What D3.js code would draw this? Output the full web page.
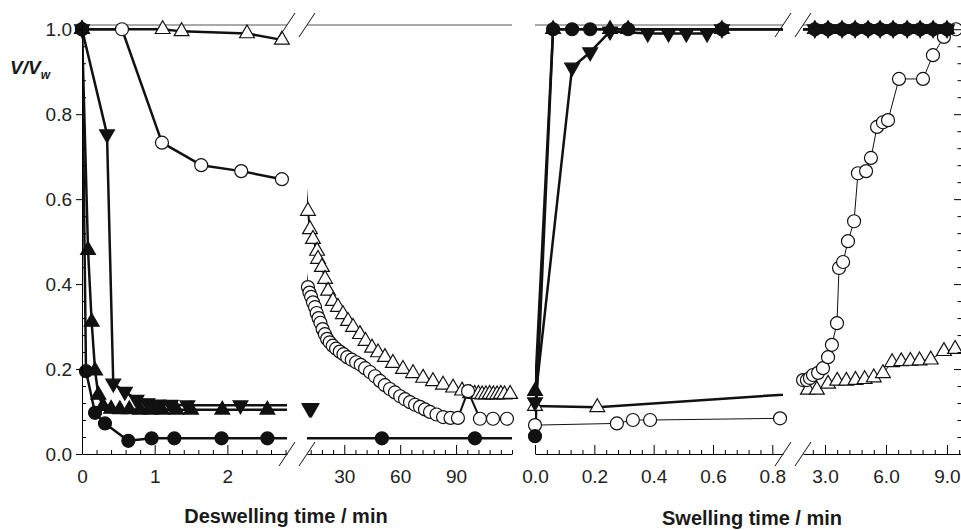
<!DOCTYPE html>
<html lang="en">
<head>
<meta charset="UTF-8">
<title>Deswelling and swelling kinetics</title>
<script src="https://d3js.org/d3.v7.min.js"></script>
<style>
    body { margin: 0; background: #fff; }
    svg { font-family: "Liberation Sans", Arial, sans-serif; }
    .axis-title { font-size: 20px; font-weight: bold; fill: #1a1a1a; }
</style>
</head>
<body>
<svg width="961" height="530"></svg>
<script>
// ---- data: [time (min), V/Vw] ----
// deswelling
const desOpenTriangle = [[0,1.0],[1.11,1.0],[1.37,0.995],[2.27,0.99],[2.75,0.975],
    [10.5,0.572],[11.6,0.529],[13.2,0.506],[15.4,0.478],[15.9,0.459],[18.0,0.44],[19.7,0.412],
    [21.3,0.384],[23.9,0.36],[26.6,0.346],[29.3,0.329],[32.0,0.313],[34.7,0.299],[38.4,0.282],
    [41.4,0.266],[44.9,0.25],[48.1,0.239],[51.8,0.228],[56.1,0.214],[61.5,0.2],[66.9,0.19],
    [72.3,0.179],[77.6,0.171],[83.0,0.163],[88.4,0.156],[93.2,0.149],[97.5,0.143],[100,0.141],
    [102,0.141],[104,0.14],[106,0.14],[108,0.141],[110,0.14],[112,0.14],[114,0.141],[116,0.14],[119,0.141]];
const desOpenCircle = [[0,1.0],[0.55,1.0],[1.1,0.733],[1.64,0.68],[2.19,0.666],[2.75,0.647],
    [10.5,0.393],[11.3,0.38],[12.2,0.37],[13.2,0.357],[14.3,0.346],[15.2,0.332],[16.2,0.32],
    [17.2,0.309],[18.4,0.294],[19.6,0.282],[20.8,0.271],[22.2,0.263],[23.8,0.255],[25.6,0.248],
    [27.6,0.241],[29.6,0.235],[31.6,0.228],[34.0,0.222],[36.4,0.216],[38.8,0.21],[41.2,0.202],
    [43.8,0.193],[46.5,0.183],[49.2,0.172],[51.8,0.162],[54.5,0.153],[57.2,0.145],[60.0,0.136],
    [62.6,0.129],[65.3,0.122],[68.0,0.116],[70.6,0.111],[73.3,0.105],[76.0,0.099],[79.5,0.093],
    [83.0,0.087],[87.0,0.085],[91.0,0.085],[96.4,0.148],[102.8,0.083],[109.8,0.083],[117.3,0.083]];
const desFilledDown = [[0,1.0],[0.344,0.753],[0.43,0.166],[0.59,0.147],[0.75,0.128],[0.9,0.12],
    [1.05,0.117],[1.22,0.116],[1.45,0.115],[2.18,0.115],[11.3,0.108],[11.8,0.108],[12.4,0.108]];
const desFilledUp = [[0,1.0],[0.083,0.48],[0.133,0.311],[0.18,0.196],[0.225,0.139],[0.29,0.113],
    [0.4,0.106],[0.52,0.105],[0.65,0.105],[0.8,0.104],[0.95,0.104],[1.1,0.104],[1.3,0.104],
    [1.5,0.104],[1.93,0.104],[2.55,0.104],[5.0,0.104]];
const desFilledCircle = [[0,1.0],[0.055,0.195],[0.179,0.097],[0.316,0.072],[0.637,0.031],
    [0.958,0.037],[1.27,0.037],[1.92,0.037],[2.55,0.037],[50.2,0.037],[100.1,0.037],[125,0.037]];

// swelling
const swOpenTriangle = [[0,0.113],[0.21,0.11],[1.2,0.157],[2.16,0.151],[2.6,0.151],[3.15,0.165],
    [3.6,0.172],[4.05,0.172],[4.5,0.174],[4.95,0.176],[5.4,0.18],[5.85,0.19],[6.3,0.216],
    [6.75,0.218],[7.2,0.219],[7.65,0.22],[8.2,0.222],[8.85,0.242],[9.4,0.247]];
const swOpenCircle = [[0,0.068],[0.276,0.072],[0.33,0.08],[0.388,0.08],[0.826,0.084],
    [1.92,0.174],[2.11,0.174],[2.26,0.179],[2.41,0.186],[2.66,0.191],[2.9,0.202],[3.15,0.228],
    [3.34,0.257],[3.59,0.308],[3.69,0.438],[3.89,0.452],[4.13,0.501],[4.43,0.548],[4.62,0.661],
    [5.02,0.666],[5.26,0.697],[5.56,0.77],[5.85,0.781],[6.1,0.786],[6.64,0.883],[7.82,0.883],
    [8.31,0.939],[8.85,0.982],[9.44,1.0]];
const swFilledDown = [[0,0.122],[0.125,0.91],[0.186,0.946],[0.253,0.995],[0.38,0.99],[0.45,0.99],
    [0.51,0.99],[0.58,0.99],[0.63,1.0],[2.5,1.0],[3.15,1.0],[3.84,1.0],[4.48,1.0],[5.12,1.0],
    [5.71,1.0],[6.35,1.0],[7.04,1.0],[7.68,1.0],[8.32,1.0],[9.0,1.0]];
const swFilledUp = [[0,0.148],[0.061,1.0],[0.253,1.0],[0.314,1.0],[0.63,1.0],[2.5,1.0],[3.15,1.0],
    [3.84,1.0],[4.48,1.0],[5.12,1.0],[5.71,1.0],[6.35,1.0],[7.04,1.0],[7.68,1.0],[8.32,1.0],[9.0,1.0]];
const swFilledCircle = [[0,0.042],[0.061,1.0],[0.125,1.0],[0.186,1.0],[0.314,1.0],[0.63,1.0],
    [2.5,1.0],[3.15,1.0],[3.84,1.0],[4.48,1.0],[5.12,1.0],[5.71,1.0],[6.35,1.0],[7.04,1.0],
    [7.68,1.0],[8.32,1.0],[9.0,1.0]];

// tick labels
const yTicks = [0, 0.2, 0.4, 0.6, 0.8, 1.0];
const desShortTicks = [0, 1, 2];
const desLongTicks = [30, 60, 90];
const swShortTicks = [0, 0.2, 0.4, 0.6, 0.8];
const swLongTicks = [3, 6, 9];

// ---- layout ----
const W = 961, H = 530;
const svg = d3.select("svg");
const y = d3.scaleLinear().domain([0, 1.01]).range([454, 25]);
const font = "'Liberation Sans', Arial, sans-serif";

// draw order: open triangles, open circles, filled down, filled up, filled circles
function makeSeries(list, widths) {
    const shapes = ["triUp", "circle", "triDown", "triUp", "circle"];
    const filled = [false, false, true, true, true];
    return list.map((data, i) => ({ data, shape: shapes[i], filled: filled[i], width: widths[i] }));
}
const desSeries = [desOpenTriangle, desOpenCircle, desFilledDown, desFilledUp, desFilledCircle];
const swSeries = [swOpenTriangle, swOpenCircle, swFilledDown, swFilledUp, swFilledCircle];

const panels = [
    { key: "des1", domain: [0, 2.82], range: [82, 287], major: desShortTicks, minorStep: 0.2,
      fmt: d3.format("d"), series: makeSeries(desSeries, [2.5, 2.5, 2.5, 2.5, 2.5]) },
    { key: "des2", domain: [10, 120], range: [307, 512], major: desLongTicks, minorStep: 6,
      fmt: d3.format("d"), series: makeSeries(desSeries, [2, 2, 2.5, 2.5, 2.5]) },
    { key: "sw1", domain: [0, 0.836], range: [535, 783], major: swShortTicks, minorStep: 0.04,
      fmt: d3.format(".1f"), series: makeSeries(swSeries, [2.5, 1, 2.5, 2.5, 2.5]) },
    { key: "sw2", domain: [1.918, 9.69], range: [803, 961], major: swLongTicks, minorStep: 0.6,
      fmt: d3.format(".1f"), series: makeSeries(swSeries, [1, 1, 2.5, 2.5, 2.5]) }
];

const triUp = d3.symbol(d3.symbolTriangle, 95);

panels.forEach(p => {
    const x = d3.scaleLinear().domain(p.domain).range(p.range);
    const clipId = "clip-" + p.key;
    svg.append("clipPath").attr("id", clipId)
        .append("rect")
        .attr("x", p.range[0]).attr("y", 0)
        .attr("width", p.range[1] - p.range[0]).attr("height", H);

    // top frame
    svg.append("line")
        .attr("x1", p.range[0]).attr("x2", p.range[1])
        .attr("y1", y(1.01)).attr("y2", y(1.01))
        .attr("stroke", "#555").attr("stroke-width", 1);

    // bottom axis, ticks pointing inward
    const minor = d3.range(Math.ceil(p.domain[0] / p.minorStep) * p.minorStep, p.domain[1] + 1e-9, p.minorStep)
        .filter(v => !p.major.some(m => Math.abs(m - v) < 1e-6));
    svg.append("g")
        .attr("transform", `translate(0,${y(0)})`)
        .call(d3.axisBottom(x).tickValues(minor).tickSize(-4).tickSizeOuter(0).tickFormat(""))
        .call(g => g.select(".domain").remove());
    const ax = svg.append("g")
        .attr("transform", `translate(0,${y(0)})`)
        .call(d3.axisBottom(x).tickValues(p.major).tickSize(-9).tickSizeOuter(0).tickPadding(16).tickFormat(p.fmt));
    ax.attr("font-family", font).attr("font-size", 19);
    ax.selectAll("text").attr("fill", "#222");

    const line = d3.line().x(d => x(d[0])).y(d => y(d[1]));
    svg.append("g").attr("clip-path", `url(#${clipId})`)
        .selectAll("path")
        .data(p.series)
        .join("path")
        .attr("d", s => line(s.data))
        .attr("fill", "none")
        .attr("stroke", "#111")
        .attr("stroke-width", s => s.width)
        .attr("stroke-linejoin", "round");

    const inside = d => d[0] >= p.domain[0] - 1e-6 && d[0] <= p.domain[1] + 1e-6;
    p.series.forEach(s => {
        const g = svg.append("g");
        const pts = s.data.filter(inside);
        const fill = s.filled ? "#111" : "#fff";
        if (s.shape === "circle") {
            g.selectAll("circle").data(pts).join("circle")
                .attr("cx", d => x(d[0])).attr("cy", d => y(d[1])).attr("r", 6.5)
                .attr("fill", fill).attr("stroke", "#111").attr("stroke-width", 1.2);
        } else {
            g.selectAll("path").data(pts).join("path")
                .attr("d", triUp)
                .attr("transform", d => `translate(${x(d[0])},${y(d[1])})` + (s.shape === "triDown" ? " rotate(180)" : ""))
                .attr("fill", fill).attr("stroke", "#111").attr("stroke-width", 1.2);
        }
    });
});

// left y axis
const yMinor = d3.range(0.04, 1.0, 0.04).filter(v => !yTicks.some(m => Math.abs(m - v) < 1e-6));
svg.append("g").attr("transform", "translate(82,0)")
    .call(d3.axisLeft(y).tickValues(yMinor).tickSize(-4).tickFormat(""))
    .call(g => g.select(".domain").remove());
const yAx = svg.append("g").attr("transform", "translate(82,0)")
    .call(d3.axisLeft(y).tickValues(yTicks).tickSize(6).tickSizeOuter(0).tickPadding(4).tickFormat(d3.format(".1f")));
yAx.attr("font-family", font).attr("font-size", 19);
yAx.selectAll("text").attr("fill", "#222");

// right y axis (ticks only)
svg.append("g").attr("transform", `translate(${W},0)`)
    .call(d3.axisRight(y).tickValues(yMinor).tickSize(-3.5).tickFormat(""))
    .call(g => g.select(".domain").remove());
svg.append("g").attr("transform", `translate(${W},0)`)
    .call(d3.axisRight(y).tickValues(yTicks).tickSize(-7).tickFormat(""))
    .call(g => g.select(".domain").remove());

// axis breaks
[[287, 25], [307, 25], [287, 454], [307, 454], [783, 25], [803, 25], [783, 454], [803, 454]].forEach(([cx, cy]) => {
    svg.append("line")
        .attr("x1", cx - 8).attr("y1", cy + 12).attr("x2", cx + 8).attr("y2", cy - 12)
        .attr("stroke", "#111").attr("stroke-width", 1);
});

// labels
const yl = svg.append("text").attr("x", 10).attr("y", 74)
    .attr("font-family", font).attr("font-size", 19).attr("font-weight", "bold")
    .attr("font-style", "italic").attr("fill", "#1a1a1a");
yl.append("tspan").text("V/V");
yl.append("tspan").attr("font-size", 12).attr("dy", 5).text("w");

svg.append("text").attr("class", "axis-title").attr("x", 286).attr("y", 523)
    .attr("text-anchor", "middle").text("Deswelling time / min");
svg.append("text").attr("class", "axis-title").attr("x", 752).attr("y", 525)
    .attr("text-anchor", "middle").text("Swelling time / min");
</script>
</body>
</html>
